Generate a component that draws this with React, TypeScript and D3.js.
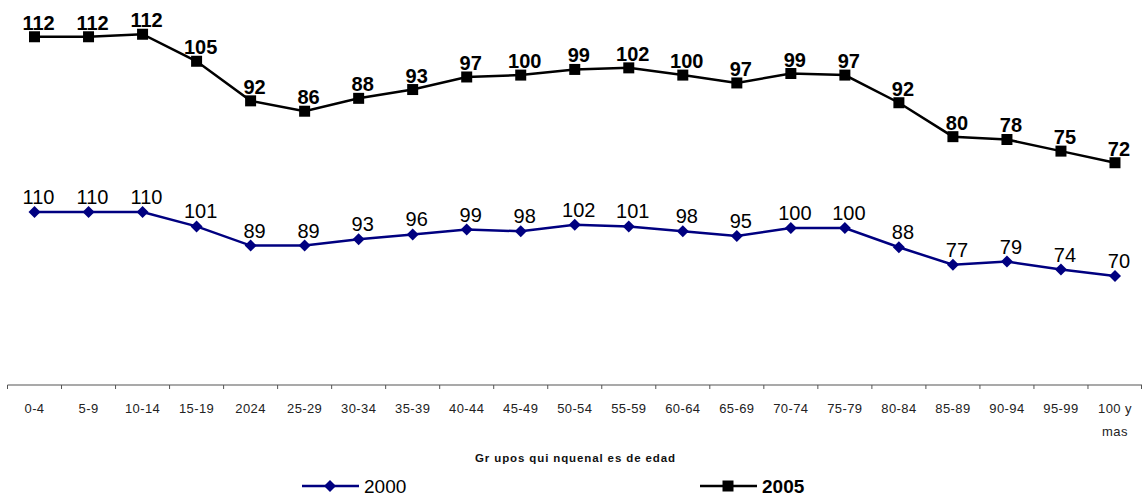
import React, { useEffect, useRef } from 'react';
import * as d3 from 'd3';

const ageGroups = ['0-4', '5-9', '10-14', '15-19', '2024', '25-29', '30-34', '35-39', '40-44', '45-49', '50-54',
  '55-59', '60-64', '65-69', '70-74', '75-79', '80-84', '85-89', '90-94', '95-99', '100 y|mas'];

const values2000 = [110, 110, 110, 101, 89, 89, 93, 96, 99, 98, 102, 101, 98, 95, 100, 100, 88, 77, 79, 74, 70];

// 2005 va su un asse secondario; le posizioni lette dal grafico non coincidono sempre con le etichette
const values2005 = [111.8, 111.8, 112.6, 104, 91.4, 88.1, 92.2, 95, 99, 99.6, 101.4, 101.9, 99.6, 97.1, 100.1, 99.6,
  90.8, 80, 79.1, 75.4, 71.7];
const labels2005 = [112, 112, 112, 105, 92, 86, 88, 93, 97, 100, 99, 102, 100, 97, 99, 97, 92, 80, 78, 75, 72];

const FONT = '"Liberation Sans", Arial, sans-serif';
const NAVY = '#000080';

const App: React.FC = () => {
  const ref = useRef<SVGSVGElement>(null);

  useEffect(() => {
    drawChart();
  }, []);

  const drawChart = () => {
    const svg = d3.select(ref.current);
    svg.selectAll('*').remove();

    const axisY = 385;

    const x = d3.scaleBand<number>()
      .domain(d3.range(ageGroups.length))
      .range([7.5, 1142]);
    const cx = (i: number) => (x(i) ?? 0) + x.bandwidth() / 2;

    const y1 = d3.scaleLinear().domain([0, 240]).range([388, 4]);
    const y2 = d3.scaleLinear().domain([0, 120]).range([388, 11]);

    // asse X
    const g = svg.append('g');
    g.append('line')
      .attr('x1', x.range()[0]).attr('x2', x.range()[1])
      .attr('y1', axisY).attr('y2', axisY)
      .attr('stroke', '#555').attr('stroke-width', 1.2);

    const bounds = ageGroups.map((_, i) => x(i) ?? 0).concat([x.range()[1] - 0.5]);
    g.selectAll('.tick')
      .data(bounds)
      .enter().append('line')
      .attr('x1', d => d).attr('x2', d => d)
      .attr('y1', axisY).attr('y2', axisY + 4)
      .attr('stroke', '#555').attr('stroke-width', 1);

    const tl = g.selectAll('.tl')
      .data(ageGroups)
      .enter().append('text')
      .attr('x', (_, i) => cx(i))
      .attr('y', 413)
      .attr('text-anchor', 'middle')
      .attr('font-family', FONT)
      .attr('font-size', 13)
      .attr('letter-spacing', 0.4)
      .attr('fill', '#222');
    tl.each(function (d, i) {
      const parts = d.split('|');
      const t = d3.select(this);
      parts.forEach((p, k) => {
        t.append('tspan')
          .attr('x', cx(i))
          .attr('dy', k === 0 ? 0 : 23)
          .text(p);
      });
    });

    // titolo asse
    svg.append('text')
      .attr('x', 575).attr('y', 462)
      .attr('text-anchor', 'middle')
      .attr('font-family', FONT)
      .attr('font-size', 11.5)
      .attr('font-weight', 'bold')
      .attr('textLength', 200)
      .attr('lengthAdjust', 'spacing')
      .attr('fill', '#111')
      .text('Gr upos qui nquenal es de edad');

    const line = (ys: d3.ScaleLinear<number, number>) => d3.line<number>()
      .x((_, i) => cx(i))
      .y(d => ys(d));

    const diamond = d3.symbol().type(d3.symbolSquare).size(72);
    const square = d3.symbol().type(d3.symbolSquare).size(121);

    // serie 2000
    svg.append('path')
      .datum(values2000)
      .attr('d', line(y1))
      .attr('fill', 'none')
      .attr('stroke', NAVY)
      .attr('stroke-width', 2.5);
    svg.selectAll('.m2000')
      .data(values2000)
      .enter().append('path')
      .attr('d', diamond() as string)
      .attr('transform', (d, i) => `translate(${cx(i)},${y1(d)}) rotate(45)`)
      .attr('fill', NAVY);
    svg.selectAll('.l2000')
      .data(values2000)
      .enter().append('text')
      .attr('x', (_, i) => cx(i) + 4)
      .attr('y', d => y1(d) - 8)
      .attr('text-anchor', 'middle')
      .attr('font-family', FONT)
      .attr('font-size', 20)
      .attr('fill', '#000')
      .text(d => d);

    // serie 2005
    svg.append('path')
      .datum(values2005)
      .attr('d', line(y2))
      .attr('fill', 'none')
      .attr('stroke', '#000')
      .attr('stroke-width', 2.5);
    svg.selectAll('.m2005')
      .data(values2005)
      .enter().append('path')
      .attr('d', square() as string)
      .attr('transform', (d, i) => `translate(${cx(i)},${y2(d)})`)
      .attr('fill', '#000');
    svg.selectAll('.l2005')
      .data(values2005)
      .enter().append('text')
      .attr('x', (_, i) => cx(i) + 4)
      .attr('y', d => y2(d) - 7)
      .attr('text-anchor', 'middle')
      .attr('font-family', FONT)
      .attr('font-size', 20)
      .attr('font-weight', 'bold')
      .attr('fill', '#000')
      .text((_, i) => labels2005[i]);

    // legenda
    const legend = [
      { name: '2000', color: NAVY, x0: 302, sym: diamond, rot: 45, bold: false },
      { name: '2005', color: '#000', x0: 700, sym: square, rot: 0, bold: true },
    ];
    const lg = svg.selectAll('.lg')
      .data(legend)
      .enter().append('g')
      .attr('transform', d => `translate(${d.x0},486)`);
    lg.append('line')
      .attr('x1', 0).attr('x2', 57).attr('y1', 0).attr('y2', 0)
      .attr('stroke', d => d.color).attr('stroke-width', 2.5);
    lg.append('path')
      .attr('d', d => d.sym() as string)
      .attr('transform', d => `translate(28,0) rotate(${d.rot})`)
      .attr('fill', d => d.color);
    lg.append('text')
      .attr('x', 62).attr('y', 7)
      .attr('font-family', FONT)
      .attr('font-size', 19)
      .attr('font-weight', d => (d.bold ? 'bold' : 'normal'))
      .attr('fill', '#000')
      .text(d => d.name);
  };

  return (
    <svg ref={ref} width={1142} height={497}
      style={{ position: 'absolute', left: 0, top: 0, background: '#fff' }} />
  );
};

export default App;
